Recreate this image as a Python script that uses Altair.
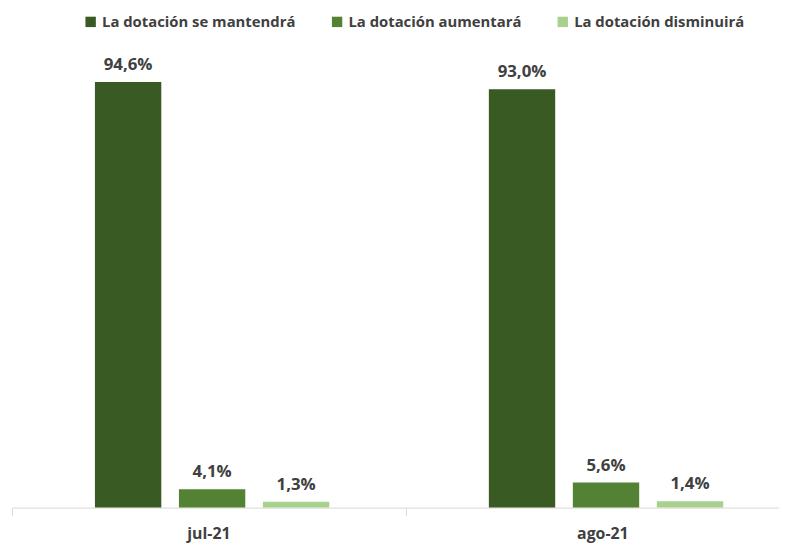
import altair as alt
import pandas as pd

periods = ["jul-21", "ago-21"]
series = ["La dotación se mantendrá", "La dotación aumentará", "La dotación disminuirá"]
mantendra = [94.6, 93.0]
aumentara = [4.1, 5.6]
disminuira = [1.3, 1.4]
colors = ["#3A5A24", "#548235", "#A9D18E"]

rows = []
for i, p in enumerate(periods):
    for s, vals in zip(series, [mantendra, aumentara, disminuira]):
        rows.append({"periodo": p, "serie": s, "valor": vals[i]})
df = pd.DataFrame(rows)

FONT = "Open Sans"
TXT = "#404040"

base = alt.Chart(df).encode(
    x=alt.X("periodo:N", sort=periods,
            scale=alt.Scale(range=[0, 796], paddingInner=0, paddingOuter=0),
            axis=alt.Axis(title=None, labelAngle=0, labelFont=FONT, labelFontSize=16,
                          labelFontWeight="bold", labelColor=TXT, domainColor="#d9d9d9",
                          tickColor="#d9d9d9", tickSize=8, bandPosition=0,
                          labelPadding=10, domainWidth=1)),
    xOffset=alt.XOffset("serie:N", sort=series,
                        scale=alt.Scale(paddingInner=0.21, paddingOuter=0.95, align=0.52)),
    y=alt.Y("valor:Q", scale=alt.Scale(domain=[0, 100]), axis=None),
)

bars = base.mark_bar().encode(
    color=alt.Color("serie:N", sort=series,
                    scale=alt.Scale(domain=series, range=colors),
                    legend=alt.Legend(title=None, orient="none", direction="horizontal",
                                      legendX=72, legendY=-44, symbolType="square",
                                      symbolSize=110, symbolStrokeWidth=0,
                                      labelFont=FONT, labelFontSize=15,
                                      labelFontWeight="bold", labelColor=TXT,
                                      columnPadding=34, labelOffset=4, labelLimit=300)),
)

labels = base.mark_text(dy=-8, baseline="bottom", font=FONT, fontSize=17,
                        fontWeight="bold", color=TXT).transform_calculate(
    etiqueta="replace(format(datum.valor, '.1f'), '.', ',') + '%'"
).encode(text="etiqueta:N")

chart = (bars + labels).properties(
    width=775, height=454.5,
    autosize=alt.AutoSizeParams(type="none"),
    padding={"left": 4, "top": 47.5, "right": 0, "bottom": 36},
).configure_view(stroke=None)

chart.save("out.html", embed_options={"renderer": "svg", "actions": False})
